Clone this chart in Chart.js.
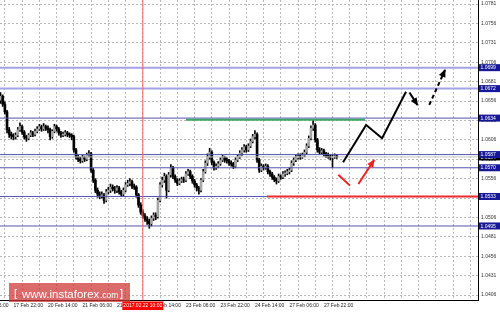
<!DOCTYPE html>
<html><head><meta charset="utf-8">
<script src="https://cdn.jsdelivr.net/npm/chart.js@4.4.1/dist/chart.umd.min.js"></script>
<style>html,body{margin:0;padding:0;background:#fff;overflow:hidden}</style>
</head><body>
<canvas id="c" width="500" height="312"></canvas>
<script>
// ---------- DATA ----------
const firstBar = -7; // hourly bars, index 0 = 17 Feb 22:00
const opens = [1.0662,1.0657,1.0662,1.0652,1.0642,1.0619,1.0613,
1.0611,1.0610,1.0612,1.0619,1.0623,1.0616,1.0610,1.0608,1.0612,1.0615,
1.0613,1.0617,1.0620,1.0623,1.0620,1.0623,1.0621,1.0619,1.0610,1.0617,
1.0623,1.0620,1.0615,1.0612,1.0613,1.0615,1.0613,1.0612,1.0610,1.0593,
1.0584,1.0581,1.0579,1.0583,1.0581,1.0586,1.0588,1.0567,1.0554,1.0541,
1.0536,1.0534,1.0535,1.0528,1.0539,1.0541,1.0545,1.0543,1.0541,1.0544,
1.0539,1.0536,1.0541,1.0548,1.0550,1.0552,1.0546,1.0545,1.0535,1.0522,
1.0513,1.0508,1.0504,1.0501,1.0498,1.0505,1.0509,1.0507,1.0528,1.0548,
1.0554,1.0559,1.0541,1.0561,1.0570,1.0559,1.0554,1.0550,1.0553,1.0555,
1.0554,1.0562,1.0565,1.0559,1.0553,1.0548,1.0544,1.0541,1.0554,1.0565,
1.0576,1.0584,1.0590,1.0577,1.0570,1.0572,1.0575,1.0580,1.0583,1.0580,
1.0579,1.0576,1.0575,1.0572,1.0580,1.0584,1.0589,1.0593,1.0597,1.0593,
1.0598,1.0604,1.0610,1.0613,1.0580,1.0567,1.0572,1.0570,1.0572,1.0565,
1.0562,1.0558,1.0555,1.0553,1.0559,1.0558,1.0562,1.0563,1.0565,1.0567,
1.0576,1.0580,1.0583,1.0585,1.0584,1.0586,1.0590,1.0598,1.0608,1.0621,
1.0625,1.0606,1.0593,1.0590,1.0592,1.0588,1.0586,1.0585,1.0583,1.0584,1.0585];
const highs = [1.0666,1.0667,1.0664,1.0655,1.0644,1.0622,1.0616,
1.0614,1.0615,1.0622,1.0628,1.0625,1.0618,1.0612,1.0614,1.0618,1.0617,
1.0620,1.0623,1.0626,1.0625,1.0627,1.0625,1.0624,1.0621,1.0619,1.0626,
1.0625,1.0622,1.0617,1.0616,1.0618,1.0617,1.0615,1.0614,1.0612,1.0595,
1.0587,1.0584,1.0586,1.0585,1.0589,1.0592,1.0590,1.0569,1.0556,1.0544,
1.0539,1.0539,1.0537,1.0542,1.0545,1.0549,1.0548,1.0546,1.0547,1.0546,
1.0541,1.0544,1.0551,1.0554,1.0556,1.0554,1.0549,1.0547,1.0537,1.0525,
1.0516,1.0511,1.0507,1.0504,1.0508,1.0512,1.0512,1.0531,1.0551,1.0558,
1.0563,1.0561,1.0564,1.0574,1.0572,1.0561,1.0556,1.0556,1.0558,1.0558,
1.0565,1.0568,1.0567,1.0561,1.0555,1.0550,1.0546,1.0556,1.0568,1.0579,
1.0588,1.0595,1.0592,1.0579,1.0575,1.0578,1.0583,1.0586,1.0585,1.0583,
1.0581,1.0579,1.0577,1.0583,1.0587,1.0592,1.0596,1.0600,1.0599,1.0601,
1.0607,1.0613,1.0618,1.0615,1.0582,1.0575,1.0574,1.0575,1.0574,1.0567,
1.0564,1.0560,1.0557,1.0562,1.0561,1.0565,1.0566,1.0568,1.0570,1.0579,
1.0583,1.0586,1.0588,1.0588,1.0589,1.0593,1.0601,1.0611,1.0624,1.0631,
1.0627,1.0608,1.0596,1.0595,1.0594,1.0590,1.0589,1.0587,1.0587,1.0588,1.0587];
const lows = [1.0654,1.0653,1.0649,1.0639,1.0615,1.0609,1.0607,
1.0606,1.0607,1.0610,1.0617,1.0613,1.0607,1.0604,1.0606,1.0610,1.0610,
1.0611,1.0615,1.0618,1.0617,1.0618,1.0618,1.0615,1.0606,1.0608,1.0615,
1.0617,1.0612,1.0609,1.0610,1.0611,1.0610,1.0609,1.0606,1.0590,1.0581,
1.0578,1.0576,1.0577,1.0578,1.0579,1.0584,1.0564,1.0551,1.0538,1.0532,
1.0530,1.0531,1.0524,1.0526,1.0536,1.0538,1.0540,1.0537,1.0538,1.0536,
1.0533,1.0534,1.0539,1.0546,1.0547,1.0543,1.0542,1.0532,1.0519,1.0510,
1.0505,1.0501,1.0497,1.0492,1.0495,1.0502,1.0503,1.0505,1.0526,1.0545,
1.0551,1.0531,1.0539,1.0558,1.0556,1.0551,1.0547,1.0548,1.0551,1.0551,
1.0552,1.0560,1.0556,1.0550,1.0545,1.0540,1.0536,1.0539,1.0552,1.0563,
1.0573,1.0581,1.0574,1.0567,1.0568,1.0570,1.0573,1.0578,1.0577,1.0576,
1.0573,1.0572,1.0569,1.0570,1.0578,1.0582,1.0586,1.0590,1.0590,1.0591,
1.0596,1.0602,1.0607,1.0577,1.0564,1.0565,1.0567,1.0568,1.0562,1.0559,
1.0555,1.0552,1.0549,1.0551,1.0555,1.0556,1.0559,1.0561,1.0562,1.0565,
1.0573,1.0578,1.0581,1.0581,1.0582,1.0584,1.0588,1.0596,1.0606,1.0618,
1.0603,1.0590,1.0587,1.0588,1.0585,1.0583,1.0582,1.0580,1.0570,1.0582,1.0582];
const closes = [1.0657,1.0662,1.0652,1.0642,1.0619,1.0613,1.0611,
1.0610,1.0612,1.0619,1.0623,1.0616,1.0610,1.0608,1.0612,1.0615,1.0613,
1.0617,1.0620,1.0623,1.0620,1.0623,1.0621,1.0619,1.0610,1.0617,1.0623,
1.0620,1.0615,1.0612,1.0613,1.0615,1.0613,1.0612,1.0610,1.0593,1.0584,
1.0581,1.0579,1.0583,1.0581,1.0586,1.0588,1.0567,1.0554,1.0541,1.0536,
1.0534,1.0535,1.0528,1.0539,1.0541,1.0545,1.0543,1.0541,1.0544,1.0539,
1.0536,1.0541,1.0548,1.0550,1.0552,1.0546,1.0545,1.0535,1.0522,1.0513,
1.0508,1.0504,1.0501,1.0498,1.0505,1.0509,1.0507,1.0528,1.0548,1.0554,
1.0559,1.0541,1.0561,1.0570,1.0559,1.0554,1.0550,1.0553,1.0555,1.0554,
1.0562,1.0565,1.0559,1.0553,1.0548,1.0544,1.0541,1.0554,1.0565,1.0576,
1.0584,1.0590,1.0577,1.0570,1.0572,1.0575,1.0580,1.0583,1.0580,1.0579,
1.0576,1.0575,1.0572,1.0580,1.0584,1.0589,1.0593,1.0597,1.0593,1.0598,
1.0604,1.0610,1.0613,1.0580,1.0567,1.0572,1.0570,1.0572,1.0565,1.0562,
1.0558,1.0555,1.0553,1.0559,1.0558,1.0562,1.0563,1.0565,1.0567,1.0576,
1.0580,1.0583,1.0585,1.0584,1.0586,1.0590,1.0598,1.0608,1.0621,1.0625,
1.0606,1.0593,1.0590,1.0592,1.0588,1.0586,1.0585,1.0583,1.0584,1.0585,1.0584];

const priceTicks = [1.0406,1.0431,1.0456,1.0481,1.0506,1.0531,1.0556,1.0581,1.0606,1.0631,1.0656,1.0681,1.0706,1.0731,1.0756,1.0781];
const timeTickBars = [-16,0,16,32,48,64,80,96,112,128,144];
const timeTickLabels = ['17 Feb 06:00','17 Feb 22:00','20 Feb 14:00','21 Feb 06:00','21 Feb 22:00','22 Feb 14:00','23 Feb 06:00','23 Feb 22:00','24 Feb 14:00','27 Feb 06:00','27 Feb 22:00'];

const levelValues = [1.0699,1.0672,1.0634,1.0587,1.0570,1.0533,1.0495];
const levelLabels = ['1.0699','1.0672','1.0634','1.0587','1.0570','1.0533','1.0495'];
const bidPrice = 1.0584;
const markerBar = 60; const markerLabel = '2017.02.22 10:00';
const greenZone = [[80.0,1.0632],[163.1,1.0632]];
const redZone = [[117.6,1.0533],[215.5,1.0533]];
const blackPath = [[152.9,1.0577],[163.6,1.0625],[171.0,1.0608],[182.1,1.0668]];
const blackArrow = [[183.7,1.0667],[187.4,1.0651]];
const blackDashArrow = [[192.9,1.0651],[200.2,1.0696]];
const redPath = [[150.7,1.0561],[156.1,1.0547]];
const redArrow = [[160.0,1.0549],[167.3,1.0580]];

// ---------- CHART ----------
const xMin = -6.26, xMax = 215.5, yMin = 1.03996, yMax = 1.07862;
const FONT = 'Liberation Sans';
Chart.defaults.font.family = FONT;

const pts = a => a.map(p => ({x: p[0], y: p[1]}));
const hline = (v, x0, x1) => [{x: x0, y: v}, {x: x1, y: v}];

const wickData = closes.map((c, i) => ({x: firstBar + i, y: [lows[i], highs[i]]}));
const bodyData = closes.map((c, i) => ({x: firstBar + i, y: [opens[i], c]}));
const bodyColors = closes.map((c, i) => c >= opens[i] ? '#a6a6a6' : '#000000');

const lineDs = (data, color, width, order, extra) => Object.assign({
  type: 'line', data, borderColor: color, borderWidth: width, pointRadius: 0,
  fill: false, tension: 0, order
}, extra || {});

const datasets = [
  {type: 'bar', data: wickData, backgroundColor: '#000', barThickness: 1, grouped: false, order: 20},
  {type: 'bar', data: bodyData, backgroundColor: bodyColors, barThickness: 2, grouped: false, minBarLength: 1, order: 19},
  lineDs(hline(bidPrice, xMin, xMax), '#c4c4c4', 1, 15),
];
levelValues.forEach((v, i) => {
  const light = i < 2;
  datasets.push(lineDs(hline(v, xMin, xMax), light ? '#a3a3e6' : '#5353b3', light ? 2 : 1, 14));
});
datasets.push(lineDs(pts(greenZone), '#3fa862', 2, 13));
datasets.push(lineDs(pts(redZone), '#ee2a2a', 2, 12));
datasets.push(lineDs([{x: markerBar, y: yMin}, {x: markerBar, y: yMax}], '#f06060', 1, 11));
datasets.push(lineDs(pts(blackPath), '#000', 2, 5));
datasets.push(lineDs(pts(blackArrow), '#000', 2, 4, {arrowHead: true}));
datasets.push(lineDs(pts(blackDashArrow), '#000', 2, 3, {arrowHead: true, borderDash: [4, 3]}));
datasets.push(lineDs(pts(redPath), '#ee2020', 2, 2));
datasets.push(lineDs(pts(redArrow), '#ee2020', 2, 1, {arrowHead: true}));

const overlay = {
  id: 'overlay',
  afterDatasetsDraw(chart) {
    const ctx = chart.ctx;
    chart.data.datasets.forEach((ds, i) => {
      if (!ds.arrowHead) return;
      const el = chart.getDatasetMeta(i).data;
      const a = el[el.length - 2], b = el[el.length - 1];
      const ang = Math.atan2(b.y - a.y, b.x - a.x);
      const L = 7, W = 3.5;
      ctx.save();
      ctx.fillStyle = ds.borderColor;
      ctx.translate(b.x, b.y); ctx.rotate(ang);
      ctx.beginPath(); ctx.moveTo(1, 0); ctx.lineTo(-L, -W); ctx.lineTo(-L, W); ctx.closePath(); ctx.fill();
      ctx.restore();
    });
  },
  afterDraw(chart) {
    const ctx = chart.ctx, ys = chart.scales.y, xs = chart.scales.x;
    const ca = chart.chartArea;
    ctx.save();
    ctx.font = '5px "' + FONT + '"';
    ctx.textBaseline = 'middle'; ctx.textAlign = 'left';
    // bid box
    let yb = ys.getPixelForValue(bidPrice);
    ctx.fillStyle = '#000'; ctx.fillRect(ca.right + 1, yb - 3.5, 21, 7);
    ctx.fillStyle = '#fff'; ctx.fillText(bidPrice.toFixed(4), ca.right + 2.5, yb + 0.3);
    // level boxes
    levelValues.forEach((v, i) => {
      const y = ys.getPixelForValue(v);
      ctx.fillStyle = '#17179a'; ctx.fillRect(ca.right + 1, y - 3.5, 21, 7);
      ctx.fillStyle = '#fff'; ctx.fillText(levelLabels[i], ca.right + 2.5, y + 0.3);
    });
    // time marker box
    const xm = xs.getPixelForValue(markerBar);
    ctx.fillStyle = '#ff0000'; ctx.fillRect(xm - 20.5, ca.bottom + 1.5, 41, 8.5);
    ctx.fillStyle = '#fff'; ctx.textAlign = 'center'; ctx.fillText(markerLabel, xm, ca.bottom + 6);
    // watermark
    ctx.fillStyle = 'rgba(205,48,48,0.72)'; ctx.fillRect(9, 283, 121, 19);
    ctx.fillStyle = '#fff'; ctx.textAlign = 'left'; ctx.textBaseline = 'alphabetic';
    ctx.font = '11px "' + FONT + '"'; ctx.fillText('[', 14, 297);
    ctx.font = '11.5px "' + FONT + '"'; ctx.fillText('www.instaforex', 22, 297.5);
    ctx.font = '8.5px "' + FONT + '"'; ctx.fillText('.com', 100, 297.5);
    ctx.font = '11px "' + FONT + '"'; ctx.fillText(']', 120, 297);
    ctx.restore();
  }
};

new Chart(document.getElementById('c'), {
  type: 'bar',
  data: {datasets},
  options: {
    responsive: false, animation: false, devicePixelRatio: 1,
    layout: {padding: 0},
    plugins: {legend: {display: false}, tooltip: {enabled: false}},
    scales: {
      x: {
        type: 'linear', min: xMin, max: xMax, offset: false,
        afterBuildTicks: s => {
          const t = [];
          for (let v = -16; v <= 208; v += 8) t.push({value: v});
          s.ticks = t;
        },
        ticks: {
          autoSkip: false, maxRotation: 0, minRotation: 0, align: 'start', padding: 3,
          color: '#222', font: {size: 5, family: FONT},
          callback: v => { const k = timeTickBars.indexOf(v); return k >= 0 ? timeTickLabels[k] : ''; }
        },
        grid: {color: '#b8b8b8', lineWidth: 1, drawTicks: false},
        border: {display: true, color: '#000', width: 1, dash: [2, 2]},
        afterFit: s => { s.height = 12; s.paddingLeft = 0; s.paddingRight = 0; }
      },
      y: {
        type: 'linear', position: 'right', min: yMin, max: yMax,
        afterBuildTicks: s => { s.ticks = priceTicks.map(v => ({value: v})); },
        ticks: {color: '#333', padding: 3, font: {size: 5, family: FONT}, callback: v => v.toFixed(4)},
        grid: {color: '#b8b8b8', lineWidth: 1, drawTicks: false},
        border: {display: true, color: '#000', width: 1, dash: [2, 2]},
        afterFit: s => { s.width = 22; s.paddingTop = 0; s.paddingBottom = 0; }
      }
    }
  },
  plugins: [overlay]
});
</script>
</body></html>
